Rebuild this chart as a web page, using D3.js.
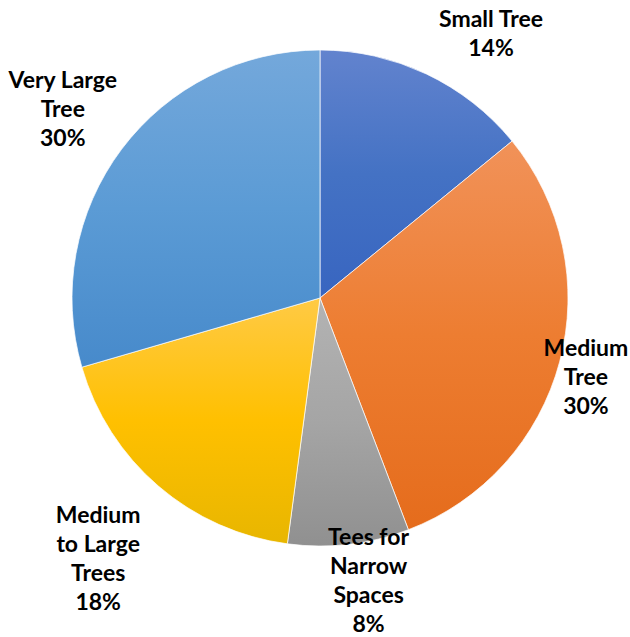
<!DOCTYPE html>
<html>
<head>
<meta charset="utf-8">
<script src="https://cdn.jsdelivr.net/npm/d3@7/dist/d3.min.js"></script>
<style>
  html, body { margin: 0; padding: 0; background: #ffffff; }
  svg { display: block; }
  text { font-family: Lato, "Open Sans", sans-serif; font-weight: bold; fill: #000; }
</style>
</head>
<body>
<div id="chart"></div>
<script>
// ---- data ----
const categories = ["Small Tree", "Medium Tree", "Tees for Narrow Spaces", "Medium to Large Trees", "Very Large Tree"];
const values = [14.1, 30.1, 7.9, 18.4, 29.5];
const labelLines = [["Small Tree"], ["Medium", "Tree"], ["Tees for", "Narrow", "Spaces"], ["Medium", "to Large", "Trees"], ["Very Large", "Tree"]];
const baseColors = ["#4472C4", "#ED7D31", "#A5A5A5", "#FFC000", "#5B9BD5"];
const topColors = ["#6283CE", "#F19259", "#B3B3B3", "#FFCA45", "#74A8DB"];
const bottomColors = ["#3865C0", "#E56C1C", "#909090", "#E8B600", "#478ACB"];

// ---- layout (label placement relative to slice mid-angle) ----
const labelAngleShift = [7.5, 1.5, -3.1, -0.2, -0.6]; // degrees
const labelRadiusFactor = [1.27, 1.118, 1.156, 1.378, 1.287];

const W = 630, H = 637;
const cx = 320, cy = 298, R = 248;
const lineH = 29;
const fontSize = 23;

const svg = d3.select("#chart").append("svg").attr("width", W).attr("height", H);
const defs = svg.append("defs");

values.forEach((v, i) => {
  const g = defs.append("linearGradient")
    .attr("id", "grad" + i)
    .attr("x1", 0).attr("y1", 0).attr("x2", 0).attr("y2", 1);
  g.append("stop").attr("offset", "0%").attr("stop-color", topColors[i]);
  g.append("stop").attr("offset", "50%").attr("stop-color", baseColors[i]);
  g.append("stop").attr("offset", "100%").attr("stop-color", bottomColors[i]);
});

const data = categories.map((c, i) => ({ name: c, value: values[i], i }));
const total = d3.sum(values);

const pie = d3.pie().sort(null).value(d => d.value);
const arc = d3.arc().innerRadius(0).outerRadius(R);
const arcs = pie(data);

const g = svg.append("g").attr("transform", `translate(${cx},${cy})`);

g.selectAll("path.slice")
  .data(arcs)
  .join("path")
  .attr("class", "slice")
  .attr("d", arc)
  .attr("fill", d => `url(#grad${d.data.i})`)
  .attr("stroke", "#ffffff")
  .attr("stroke-width", 0.7);

const labels = g.selectAll("text.lbl")
  .data(arcs)
  .join("text")
  .attr("class", "lbl")
  .attr("text-anchor", "middle")
  .style("font-size", fontSize + "px");

labels.each(function(d) {
  const i = d.data.i;
  const mid = (d.startAngle + d.endAngle) / 2 + labelAngleShift[i] * Math.PI / 180;
  const r = R * labelRadiusFactor[i];
  const x = r * Math.sin(mid);
  const y = -r * Math.cos(mid);
  const lines = labelLines[i].concat([Math.round(d.data.value / total * 100) + "%"]);
  const n = lines.length;
  const t = d3.select(this);
  lines.forEach((ln, k) => {
    t.append("tspan")
      .attr("x", x)
      .attr("y", y + (k - (n - 1) / 2) * lineH)
      .attr("dy", "0.36em")
      .text(ln);
  });
});
</script>
</body>
</html>
